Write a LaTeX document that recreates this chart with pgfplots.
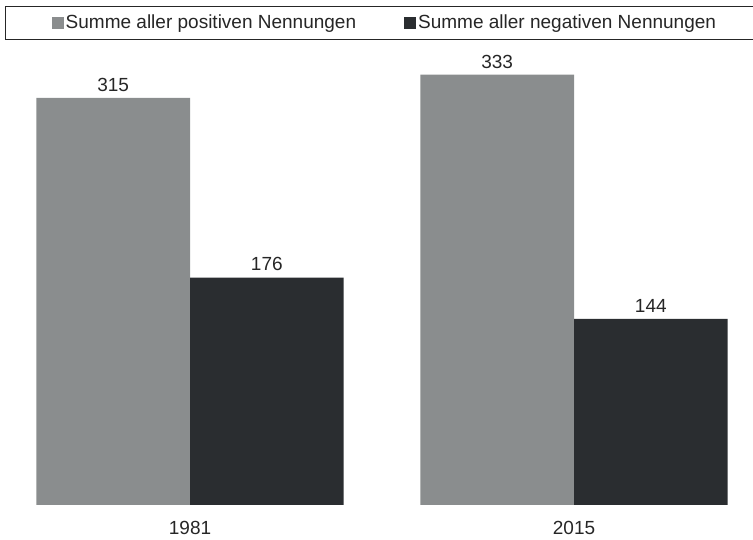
\documentclass[border=0pt]{standalone}
\usepackage{fontspec}
\setmainfont{Liberation Sans}
\usepackage{pgfplots}
\pgfplotsset{compat=1.18}
\definecolor{gpos}{HTML}{8A8D8E}
\definecolor{gneg}{HTML}{2A2D30}
\definecolor{txt}{HTML}{262626}
\newcommand{\chartfont}{\fontsize{19bp}{23bp}\selectfont}
\begin{document}
\chartfont
\begin{tikzpicture}
\begin{axis}[
  scale only axis, width=753bp, height=499bp,
  xmin=-0.4948, xmax=1.4661, ymin=0, ymax=386.2,
  axis line style={draw=none},
  ytick=\empty,
  xtick={0,1}, xticklabels={{\mbox{1981}},{\mbox{2015}}},
  major tick length=0pt, tick style={draw=none},
  xticklabel style={font=\chartfont, text=txt, yshift=-10bp},
  ybar, bar width=0.4,
  nodes near coords,
  /pgf/number format/assume math mode=true,
  nodes near coords style={font=\chartfont, text=txt},
  legend columns=2,
  legend style={at={(axis description cs:0.00664,1)}, anchor=north west,
    draw=txt, line width=1.5bp, font=\chartfont, text=txt,
    inner xsep=46bp, inner ysep=6bp,
    /tikz/every even column/.append style={column sep=46bp}},
]
\addplot[fill=gpos, draw=none, bar shift=-0.2,
  legend image code/.code={\fill[gpos] (1bp,-6bp) rectangle (13bp,6bp);}]
  coordinates {(0,315) (1,333)};
\addlegendentry{Summe aller positiven Nennungen}
\addplot[fill=gneg, draw=none, bar shift=0.2,
  legend image code/.code={\fill[gneg] (1bp,-6bp) rectangle (13bp,6bp);}]
  coordinates {(0,176) (1,144)};
\addlegendentry{Summe aller negativen Nennungen}
\end{axis}
\pgfresetboundingbox
\path ([yshift=-35bp]current axis.south west) rectangle ([yshift=6bp]current axis.north east);
\end{tikzpicture}
\end{document}
